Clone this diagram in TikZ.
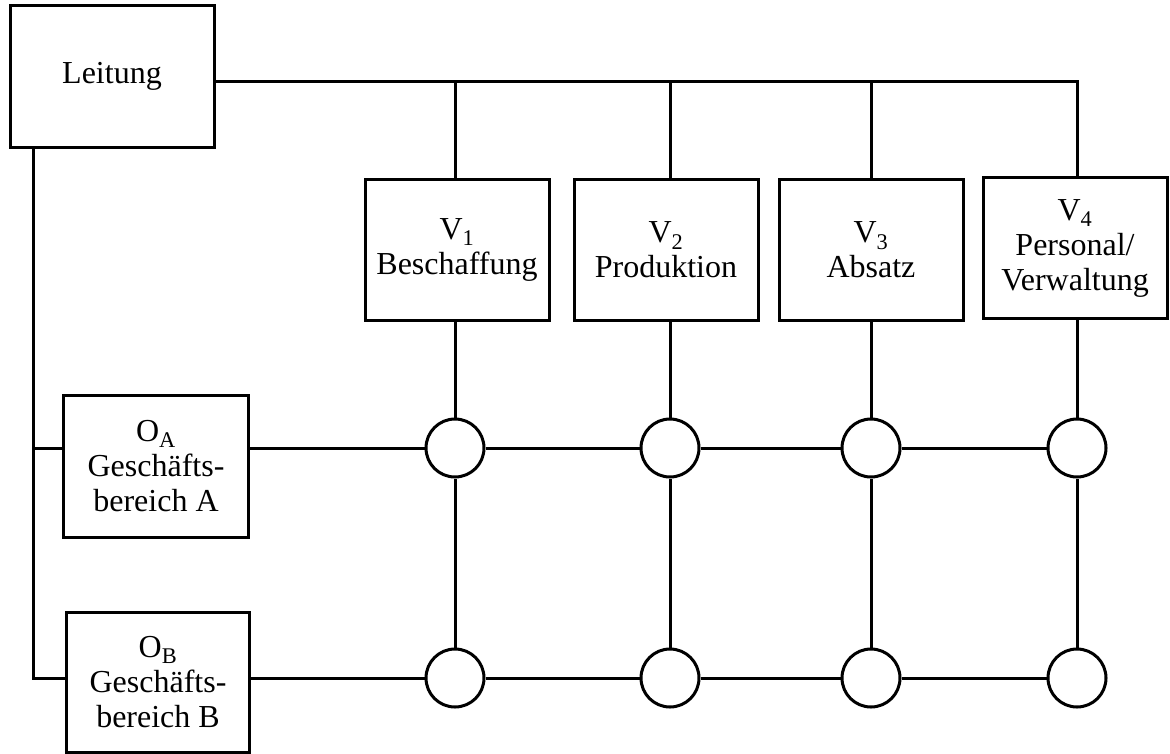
\documentclass[tikz,border=0pt]{standalone}
\usepackage{fontspec}
\setmainfont{Liberation Serif}
\newcommand\boxfont{\fontsize{32}{35}\selectfont}

\begin{document}
\begin{tikzpicture}[x=1pt,y=-1pt,line width=3pt,
    box node/.style={draw,align=center,inner sep=0pt,font=\boxfont},
    v node/.style={box node,minimum width=184pt,minimum height=141pt},
    knot node/.style={circle,draw,fill=white,minimum size=58pt,inner sep=0pt}]
    \useasboundingbox (0,0) rectangle (1170,753);

    \node[box node,minimum width=204pt,minimum height=142pt] (L) at (112,76) {Leitung};

    \node[v node] (V1) at (457,250) {V\textsubscript{1}\\Beschaffung};
    \node[v node] (V2) at (666,250) {V\textsubscript{2}\\Produktion};
    \node[v node] (V3) at (871,250) {V\textsubscript{3}\\Absatz};
    \node[v node] (V4) at (1075,248) {V\textsubscript{4}\\Personal/\\Verwaltung};

    \node[box node,minimum width=185pt,minimum height=142pt] (OA) at (156,466) {O\textsubscript{A}\\Geschäfts-\\bereich A};
    \node[box node,minimum width=183pt,minimum height=140pt] (OB) at (158,682) {O\textsubscript{B}\\Geschäfts-\\bereich B};

    \foreach \x/\c in {455/1,670/2,871/3,1077/4} {
        \node[knot node] (A\c) at (\x,448) {};
        \node[knot node] (B\c) at (\x,678) {};
    }

    \coordinate (top) at (1077,81);
    \coordinate (trunk) at (33,678);

    \draw (L.east |- top) -- (top) -- (top |- V4.north);
    \foreach \c in {1,2,3}
        \draw (A\c |- top) -- (A\c |- V\c.north);
    \foreach \c in {1,...,4}
        \draw (A\c |- V\c.south) -- (A\c) -- (B\c);

    \draw (OA.east |- A1) -- (A1) -- (A2) -- (A3) -- (A4);
    \draw (OB.east |- B1) -- (B1) -- (B2) -- (B3) -- (B4);

    \draw (L.south -| trunk) -- (trunk) -- (OB.west |- trunk);
    \draw (trunk |- A1) -- (OA.west |- A1);
\end{tikzpicture}
\end{document}
